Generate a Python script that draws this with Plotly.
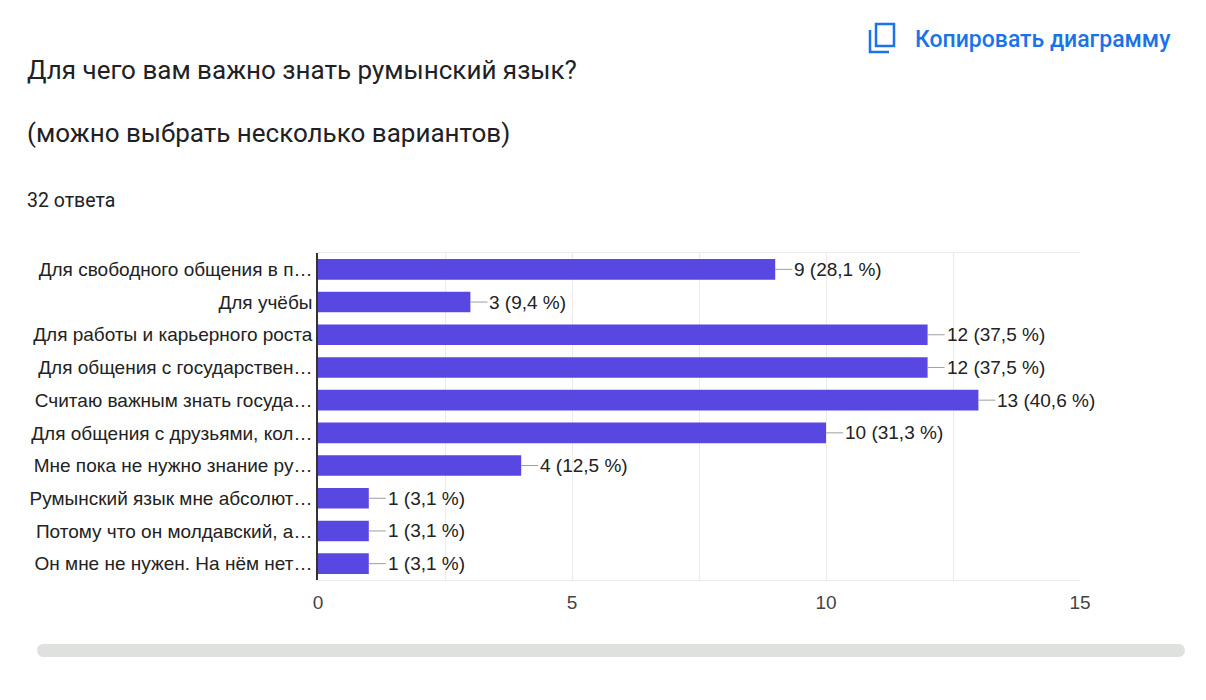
import plotly.graph_objects as go

# survey answers, top to bottom as in the form
categories = [
    "Для свободного общения в п…",
    "Для учёбы",
    "Для работы и карьерного роста",
    "Для общения с государствен…",
    "Считаю важным знать госуда…",
    "Для общения с друзьями, кол…",
    "Мне пока не нужно знание ру…",
    "Румынский язык мне абсолют…",
    "Потому что он молдавский, а…",
    "Он мне не нужен. На нём нет…",
]
counts = [9, 3, 12, 12, 13, 10, 4, 1, 1, 1]
percents = ["28,1", "9,4", "37,5", "37,5", "40,6", "31,3", "12,5", "3,1", "3,1", "3,1"]
x_ticks = [0, 5, 10, 15]

W, H = 1206, 700
L, R, T, B = 318, 126, 253, 120
PW, PH = W - L - R, H - T - B


def px(x):
    return (x - L) / PW


def py(y):
    return (H - B - y) / PH


fig = go.Figure()
fig.add_trace(go.Bar(
    x=counts, y=categories, orientation="h",
    marker=dict(color="#5847e0", line=dict(width=0)),
    hoverinfo="skip",
))

annotations = []
for c, cat, p in zip(counts, categories, percents):
    annotations.append(dict(
        x=c, y=cat, xref="x", yref="y",
        text=f"{c} ({p} %)",
        showarrow=True, arrowhead=0, arrowwidth=1, arrowcolor="#9e9e9e",
        ax=17, ay=0, axref="pixel", ayref="pixel",
        xanchor="left", standoff=0, startstandoff=0,
        font=dict(family="Liberation Sans, Arial", size=19, color="#222222"),
    ))

# header texts
annotations += [
    dict(x=px(25), y=py(70), xref="paper", yref="paper", xanchor="left", yanchor="middle",
         text="Для чего вам важно знать румынский язык?", showarrow=False,
         font=dict(family="Roboto", size=26, color="#202124")),
    dict(x=px(25), y=py(133), xref="paper", yref="paper", xanchor="left", yanchor="middle",
         text="(можно выбрать несколько вариантов)", showarrow=False,
         font=dict(family="Roboto", size=26, color="#202124")),
    dict(x=px(25), y=py(201), xref="paper", yref="paper", xanchor="left", yanchor="middle",
         text="32 ответа", showarrow=False,
         font=dict(family="Roboto", size=19.5, color="#202124")),
    dict(x=px(913), y=py(40), xref="paper", yref="paper", xanchor="left", yanchor="middle",
         text="Копировать диаграмму", showarrow=False,
         font=dict(family="Roboto", size=23, color="#1a73e8", weight=500)),
]

shapes = [
    # copy icon: front rectangle
    dict(type="rect", xref="paper", yref="paper",
         x0=px(876), x1=px(894), y0=py(46), y1=py(24),
         line=dict(color="#1a73e8", width=2.5), fillcolor="rgba(0,0,0,0)"),
    # copy icon: back L
    dict(type="path", xref="paper", yref="paper",
         path=f"M {px(870)} {py(30)} L {px(870)} {py(52)} L {px(889)} {py(52)}",
         line=dict(color="#1a73e8", width=2.5)),
]

# scrollbar at the bottom
x0s, x1s, yt, yb, r = 37, 1185, 644, 657, 6.5
shapes.append(dict(
    type="path", xref="paper", yref="paper",
    path=(f"M {px(x0s + r)} {py(yt)} L {px(x1s - r)} {py(yt)} "
          f"C {px(x1s + 2)} {py(yt)} {px(x1s + 2)} {py(yb)} {px(x1s - r)} {py(yb)} "
          f"L {px(x0s + r)} {py(yb)} "
          f"C {px(x0s - 2)} {py(yb)} {px(x0s - 2)} {py(yt)} {px(x0s + r)} {py(yt)} Z"),
    fillcolor="#dfe1de", line=dict(width=0), layer="below"))

fig.update_layout(
    width=W, height=H,
    margin=dict(l=L, r=R, t=T, b=B, autoexpand=False),
    paper_bgcolor="white", plot_bgcolor="white",
    showlegend=False,
    bargap=0.37,
    annotations=annotations,
    shapes=shapes,
    xaxis=dict(
        range=[0, 15], tickvals=x_ticks, ticktext=[str(t) for t in x_ticks],
        showgrid=True, gridcolor="#ebebeb", gridwidth=1,
        minor=dict(dtick=2.5, showgrid=True, gridcolor="#ebebeb"),
        zeroline=False,
        showline=True, mirror=True, linecolor="#ebebeb", linewidth=1,
        ticks="outside", ticklen=5, tickcolor="rgba(0,0,0,0)",
        tickfont=dict(family="Liberation Sans, Arial", size=19, color="#444444"),
        fixedrange=True,
    ),
    yaxis=dict(
        autorange="reversed", showgrid=False, zeroline=False,
        showline=True, linecolor="#333333", linewidth=1.5,
        ticks="",
        tickfont=dict(family="Liberation Sans, Arial", size=19, color="#222222"),
        fixedrange=True,
    ),
)

fig.write_html("out.html", config={"displayModeBar": False},
               post_script="document.body.style.margin='0';")
